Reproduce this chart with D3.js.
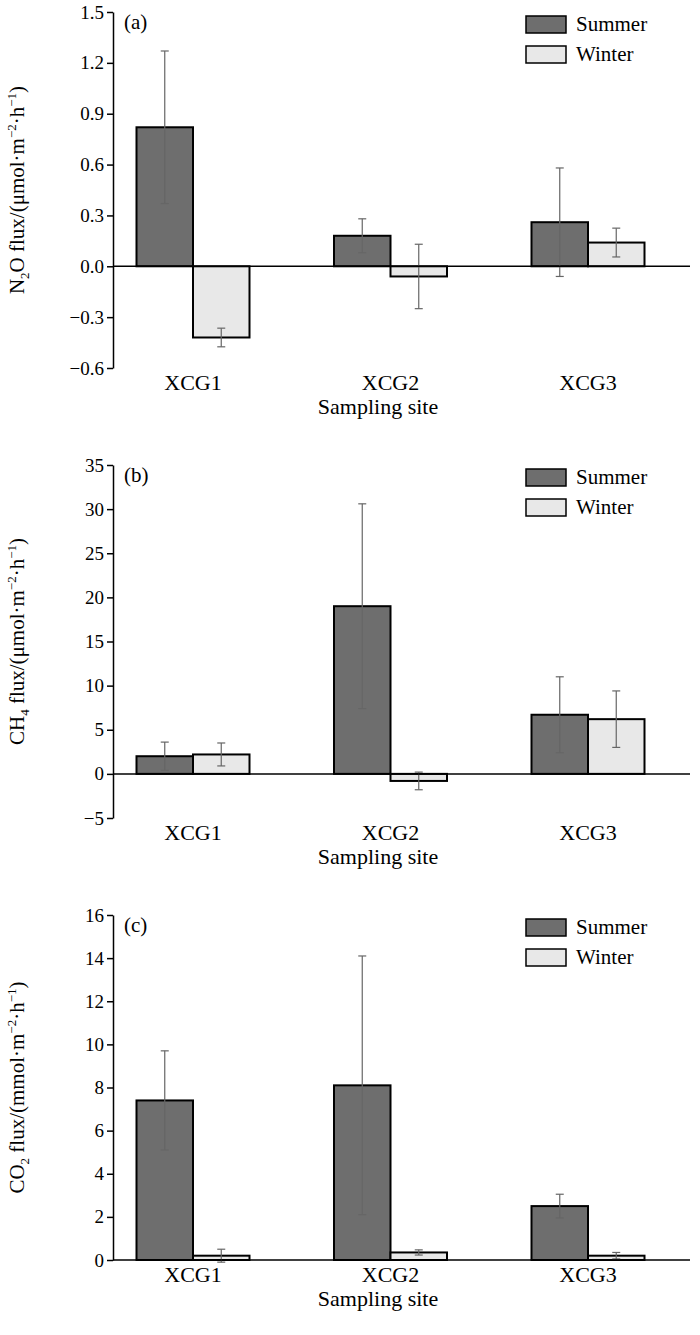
<!DOCTYPE html>
<html><head><meta charset="utf-8">
<script src="https://cdn.jsdelivr.net/npm/d3@7"></script>
<style>body{margin:0;background:#fff}</style>
</head><body>
<svg id="chart" width="700" height="1335"></svg>
<script>
var sites = ["XCG1", "XCG2", "XCG3"];
var seasons = ["Summer", "Winter"];

// panel (a) N2O
var n2oSummer = [0.82, 0.18, 0.26];
var n2oSummerErr = [0.45, 0.10, 0.32];
var n2oWinter = [-0.42, -0.06, 0.14];
var n2oWinterErr = [0.055, 0.19, 0.085];
var n2oTicks = [-0.6, -0.3, 0.0, 0.3, 0.6, 0.9, 1.2, 1.5];

// panel (b) CH4
var ch4Summer = [2.0, 19.0, 6.7];
var ch4SummerErr = [1.6, 11.6, 4.3];
var ch4Winter = [2.2, -0.8, 6.2];
var ch4WinterErr = [1.3, 1.0, 3.2];
var ch4Ticks = [-5, 0, 5, 10, 15, 20, 25, 30, 35];

// panel (c) CO2
var co2Summer = [7.4, 8.1, 2.5];
var co2SummerErr = [2.3, 6.0, 0.55];
var co2Winter = [0.2, 0.35, 0.2];
var co2WinterErr = [0.3, 0.12, 0.15];
var co2Ticks = [0, 2, 4, 6, 8, 10, 12, 14, 16];

var svg = d3.select("#chart");
var font = "Liberation Serif, Times New Roman, serif";
var colors = {Summer: "#6e6e6e", Winter: "#e8e8e8"};

function panel(cfg) {
  var g = svg.append("g");
  var y = d3.scaleLinear().domain(cfg.domain).range([cfg.bottom, cfg.top]);
  var x = d3.scalePoint().domain(sites).range([193, 588]);
  var bw = 56.5;

  // y axis
  var ax = g.append("g").attr("transform", "translate(113,0)")
    .call(d3.axisLeft(y).tickValues(cfg.ticks).tickSize(6).tickSizeOuter(0)
      .tickFormat(cfg.fmt));
  ax.select(".domain").attr("stroke-width", 1.5);
  ax.selectAll("line").attr("stroke-width", 1.5);
  ax.selectAll("text").attr("font-family", font).attr("font-size", 19)
    .attr("fill", "#000").text(function(d) { return cfg.fmt(d).replace("-", "\u2212"); });

  var series = [
    {name: "Summer", vals: cfg.summer, err: cfg.summerErr, off: -bw},
    {name: "Winter", vals: cfg.winter, err: cfg.winterErr, off: 0}
  ];
  series.forEach(function(s) {
    g.selectAll(null).data(s.vals).enter().append("rect")
      .attr("x", function(d, i) { return x(sites[i]) + s.off; })
      .attr("y", function(d) { return y(Math.max(0, d)); })
      .attr("width", bw)
      .attr("height", function(d) { return Math.abs(y(d) - y(0)); })
      .attr("fill", colors[s.name]).attr("stroke", "#000").attr("stroke-width", 2);
    s.vals.forEach(function(d, i) {
      var cx = x(sites[i]) + s.off + bw / 2;
      var e = s.err[i];
      g.append("line").attr("x1", cx).attr("x2", cx)
        .attr("y1", y(d - e)).attr("y2", y(d + e)).attr("stroke", "#666").attr("stroke-width", 1.2);
      [d - e, d + e].forEach(function(v) {
        g.append("line").attr("x1", cx - 4).attr("x2", cx + 4)
          .attr("y1", y(v)).attr("y2", y(v)).attr("stroke", "#666").attr("stroke-width", 1.2);
      });
    });
  });

  // zero line
  g.append("line").attr("x1", 113).attr("x2", 690).attr("y1", y(0)).attr("y2", y(0))
    .attr("stroke", "#000").attr("stroke-width", 1.5);

  // category labels
  g.selectAll(null).data(sites).enter().append("text")
    .attr("x", function(d) { return x(d); }).attr("y", cfg.bottom + 22)
    .attr("text-anchor", "middle").attr("font-family", font).attr("font-size", 22).text(function(d) { return d; });
  g.append("text").attr("x", 378).attr("y", cfg.bottom + 46).attr("text-anchor", "middle")
    .attr("font-family", font).attr("font-size", 22).text("Sampling site");

  g.append("text").attr("x", 124).attr("y", cfg.top + 17).attr("font-family", font)
    .attr("font-size", 21).text(cfg.label);

  // legend
  seasons.forEach(function(s, i) {
    g.append("rect").attr("x", 526).attr("y", cfg.top + 4 + i * 30).attr("width", 40).attr("height", 17)
      .attr("fill", colors[s]).attr("stroke", "#000").attr("stroke-width", 1.5);
    g.append("text").attr("x", 576).attr("y", cfg.top + 19 + i * 30).attr("font-family", font)
      .attr("font-size", 21).text(s);
  });

  // y title
  var t = g.append("text").attr("transform", "translate(24," + ((cfg.top + cfg.bottom) / 2) + ") rotate(-90)")
    .attr("text-anchor", "middle").attr("font-family", font).attr("font-size", 21);
  cfg.title.forEach(function(p) {
    var ts = t.append("tspan").text(p[0]);
    if (p[1] === "sub") ts.attr("font-size", 13).attr("dy", 5);
    if (p[1] === "sup") ts.attr("font-size", 13).attr("dy", -8);
    if (p[1] === "back") ts.attr("dy", p[2]);
  });
}

function titleParts(gas, unit) {
  return [[gas[0]], [gas[1], "sub"], [gas[2] + " flux/(" + unit + "\u00b7m", "back", -5],
    ["\u22122", "sup"], ["\u00b7h", "back", 8], ["\u22121", "sup"], [")", "back", 8]];
}

panel({top: 12, bottom: 368, domain: [-0.6, 1.5], ticks: n2oTicks, fmt: d3.format(".1f"),
  summer: n2oSummer, summerErr: n2oSummerErr, winter: n2oWinter, winterErr: n2oWinterErr,
  label: "(a)", title: titleParts(["N", "2", "O"], "\u03bcmol")});
panel({top: 465, bottom: 818, domain: [-5, 35], ticks: ch4Ticks, fmt: d3.format("d"),
  summer: ch4Summer, summerErr: ch4SummerErr, winter: ch4Winter, winterErr: ch4WinterErr,
  label: "(b)", title: titleParts(["CH", "4", ""], "\u03bcmol")});
panel({top: 915, bottom: 1260, domain: [0, 16], ticks: co2Ticks, fmt: d3.format("d"),
  summer: co2Summer, summerErr: co2SummerErr, winter: co2Winter, winterErr: co2WinterErr,
  label: "(c)", title: titleParts(["CO", "2", ""], "mmol")});
</script>
</body></html>
